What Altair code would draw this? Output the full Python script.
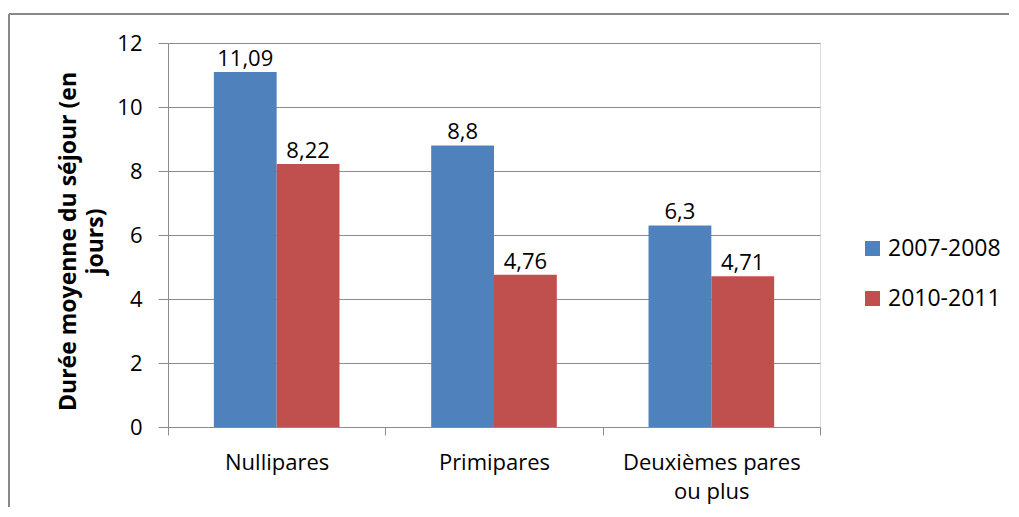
import altair as alt
import pandas as pd

categories = ["Nullipares", "Primipares", "Deuxièmes pares ou plus"]
periods = ["2007-2008", "2010-2011"]
values_2007 = [11.09, 8.8, 6.3]
values_2010 = [8.22, 4.76, 4.71]
y_ticks = [0, 2, 4, 6, 8, 10, 12]

rows = []
for c, a, b in zip(categories, values_2007, values_2010):
    rows.append({"cat": c, "period": periods[0], "value": a})
    rows.append({"cat": c, "period": periods[1], "value": b})
df = pd.DataFrame(rows)

FONT = "Open Sans"
GRID = "#8c8c8c"

x_enc = alt.X("cat:N", sort=categories,
              scale=alt.Scale(paddingInner=0, paddingOuter=0),
              axis=alt.Axis(title=None, bandPosition=0, tickBand="extent",
                            domainColor=GRID, tickColor=GRID, tickSize=8,
                            labelAngle=0, labelFontSize=22, labelFont=FONT,
                            labelColor="#000", labelPadding=17, labelLineHeight=29,
                            labelExpr="datum.label == 'Deuxièmes pares ou plus' ? ['Deuxièmes pares', 'ou plus'] : datum.label",
                            grid=False))
xoff = alt.XOffset("period:N", sort=periods,
                   scale=alt.Scale(paddingInner=0, paddingOuter=0.73))

y_enc = alt.Y("value:Q",
              scale=alt.Scale(domain=[0, 12], nice=False),
              axis=alt.Axis(values=y_ticks, title=["Durée moyenne du séjour (en", "jours)"],
                            titleFontSize=23, titleFont=FONT, titleFontWeight="bold",
                            titleColor="#000", titlePadding=9, titleLineHeight=27,
                            titleY=198,
                            labelFontSize=22, labelFont=FONT, labelColor="#000",
                            labelPadding=16, tickSize=10, tickColor=GRID,
                            domainColor=GRID, gridColor=GRID))

color = alt.Color("period:N", sort=periods,
                  scale=alt.Scale(domain=periods, range=["#4F81BD", "#C0504D"]),
                  legend=alt.Legend(title=None, orient="none", legendX=693, legendY=194,
                                    symbolType="square", symbolSize=225,
                                    symbolStrokeWidth=0, labelFontSize=23,
                                    labelFont=FONT, labelColor="#000",
                                    rowPadding=26, labelOffset=4))

bars = alt.Chart(df).mark_bar(strokeWidth=0).encode(
    x=x_enc, xOffset=xoff, y=y_enc, color=color)

labels = alt.Chart(df).transform_calculate(
    txt="replace(toString(datum.value), '.', ',')"
).mark_text(dy=-6, baseline="alphabetic", fontSize=22, font=FONT, color="#000").encode(
    x=alt.X("cat:N", sort=categories), xOffset=xoff, y="value:Q", text="txt:N")

one = pd.DataFrame({"a": [0]})
border_top = alt.Chart(one).mark_rule(stroke="#888888", strokeWidth=2).encode(
    x=alt.value(-159), x2=alt.value(841), y=alt.value(-29))
border_left = alt.Chart(one).mark_rule(stroke="#888888", strokeWidth=2).encode(
    x=alt.value(-159), y=alt.value(-29), y2=alt.value(464))

chart = alt.layer(border_top, border_left, bars, labels).properties(
    width=652, height=384,
    padding={"left": 0, "top": 5, "right": 0, "bottom": 0}
).configure_view(stroke=None).configure(background="white")

chart.save("out.html", embed_options={"renderer": "svg", "actions": False})
